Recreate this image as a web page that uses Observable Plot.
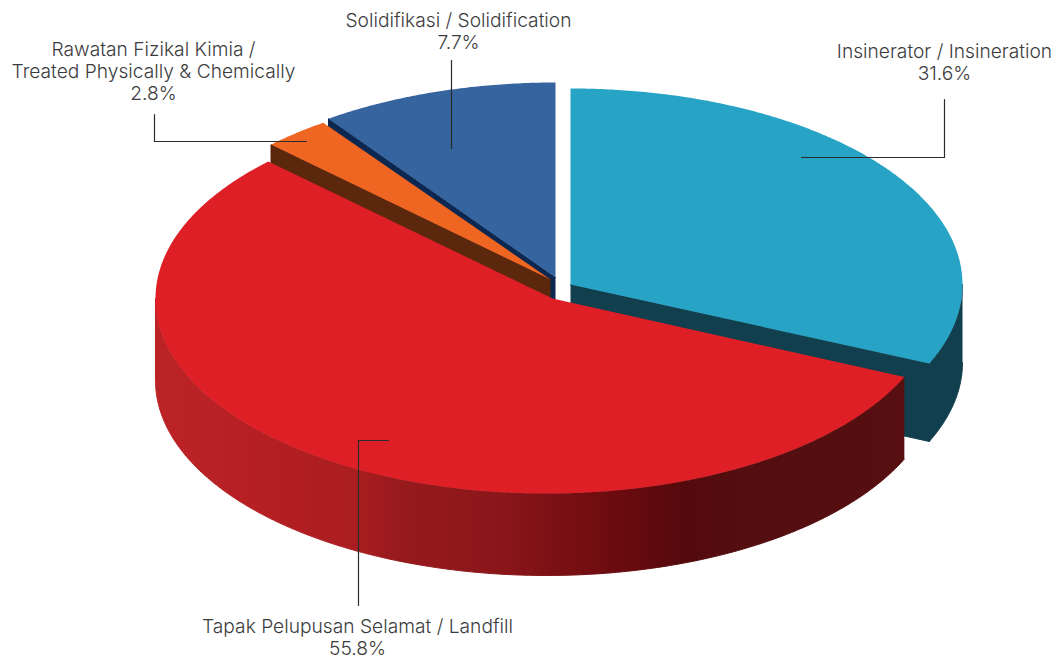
<!DOCTYPE html>
<html>
<head>
<meta charset="utf-8">
<style>
html,body{margin:0;padding:0;background:#fff;overflow:hidden}
svg{display:block}
</style>
<script src="https://cdn.jsdelivr.net/npm/d3@7"></script>
<script src="https://cdn.jsdelivr.net/npm/@observablehq/plot@0.6"></script>
</head>
<body>
<script>
// --- data, clockwise from 12 o'clock ---
const names = ["Insinerator / Insineration", "Tapak Pelupusan Selamat / Landfill", "Rawatan Fizikal Kimia /\nTreated Physically & Chemically", "Solidifikasi / Solidification"];
const labelled = ["31.6%", "55.8%", "2.8%", "7.7%"];
// the share of the circle each slice takes in the picture (the blue slice is drawn larger than its label)
const drawnShare = [31.6, 55.8, 2.8, 9.8];

// --- styling ---
const topColors = ["#27a3c5", "#df1f26", "#ef6622", "#36649f"];
const wallColors = ["#123f4e", "url(#redWall)", "#5b270d", "#0c2750"];
const redWallStops = [[0, "#bc2327"], [0.12, "#b62024"], [0.27, "#aa1d20"], [0.32, "#981a1d"], [0.46, "#8a1619"], [0.55, "#780f13"], [0.65, "#640a0e"], [0.70, "#550a0d"], [0.78, "#530e10"], [1, "#570f11"]];

// --- layout of the exploded slices in chart units ---
const cx = [570, 546, 548, 555], cy = [284, 298, 279, 279];
const rx = [392, 391, 390, 393], ry = [196, 195, 192, 197];
const apexX = [570, 552, 550, 555], apexY = [284, 298, 279, 277];
const depth = [78, 82, 82, 82];
const drawOrder = [0, 3, 2, 1];

const cum = d3.cumsum(drawnShare).map(v => v * 3.6);
const pt = (i, deg, dy = 0) => {
  const a = deg * Math.PI / 180;
  return {x: cx[i] + rx[i] * Math.sin(a), y: cy[i] - ry[i] * Math.cos(a) + dy};
};
const arc = (i, a0, a1, dy = 0) => {
  const n = Math.max(2, Math.ceil(Math.abs(a1 - a0) * 2));
  return d3.range(n + 1).map(k => pt(i, a0 + (a1 - a0) * k / n, dy));
};
const poly = (points, fill, seal = false) => Plot.line(points, {x: "x", y: "y", fill, stroke: seal ? fill : "none", strokeWidth: 1});

const marks = [];
for (const i of drawOrder) {
  const a0 = i ? cum[i - 1] : 0, a1 = cum[i], d = depth[i];
  const apex = {x: apexX[i], y: apexY[i]}, apexLow = {x: apexX[i], y: apexY[i] + d};
  // cut faces that look toward the viewer
  if (a0 > 180 && a0 < 360) marks.push(poly([apex, pt(i, a0), pt(i, a0, d), apexLow], wallColors[i], true));
  if (a1 > 0 && a1 < 180) marks.push(poly([apex, pt(i, a1), pt(i, a1, d), apexLow], wallColors[i], true));
  // outer wall on the front half of the ellipse
  const w0 = Math.max(a0, 90), w1 = Math.min(a1, 270);
  if (w1 > w0) marks.push(poly([...arc(i, w0, w1), ...arc(i, w1, w0, d)], wallColors[i], true));
  // top face
  marks.push(poly([apex, ...arc(i, a0, a1)], topColors[i]));
}

// --- leader lines and labels ---
const leaders = [
  [{x: 801, y: 157}, {x: 944, y: 157}, {x: 944, y: 99}],
  [{x: 388, y: 440}, {x: 358, y: 440}, {x: 358, y: 605}],
  [{x: 154, y: 114}, {x: 154, y: 141}, {x: 306, y: 141}],
  [{x: 451, y: 60}, {x: 451, y: 148}]
];
const labelAt = [[944, 62], [357, 637], [153, 71], [458, 31]];
const labels = names.map((n, i) => ({x: labelAt[i][0], y: labelAt[i][1] - 1, text: `${n}\n${labelled[i]}`}));

const defs = () => {
  const g = d3.create("svg:linearGradient").attr("id", "redWall")
    .attr("gradientUnits", "userSpaceOnUse").attr("x1", 155).attr("x2", 904).attr("y1", 0).attr("y2", 0);
  for (const [o, c] of redWallStops) g.append("stop").attr("offset", o).attr("stop-color", c);
  const d = d3.create("svg:defs");
  d.append(() => g.node());
  return d.node();
};

const chart = Plot.plot({
  width: 1057, height: 664, margin: 0,
  x: {domain: [0, 1057], range: [0, 1057], axis: null},
  y: {domain: [0, 664], range: [0, 664], axis: null},
  style: {background: "#fff"},
  marks: [
    defs,
    ...marks,
    ...leaders.map(l => Plot.line(l, {x: "x", y: "y", stroke: "#2b2b2e", strokeWidth: 1.2, fill: "none"})),
    Plot.text(labels, {x: "x", y: "y", text: "text", textAnchor: "middle", lineAnchor: "middle", fontFamily: "Inter", fontSize: 19.2, fontWeight: 300, lineHeight: 1.146, fill: "#3c3c3e"})
  ]
});
document.body.appendChild(chart);
</script>
</body>
</html>
